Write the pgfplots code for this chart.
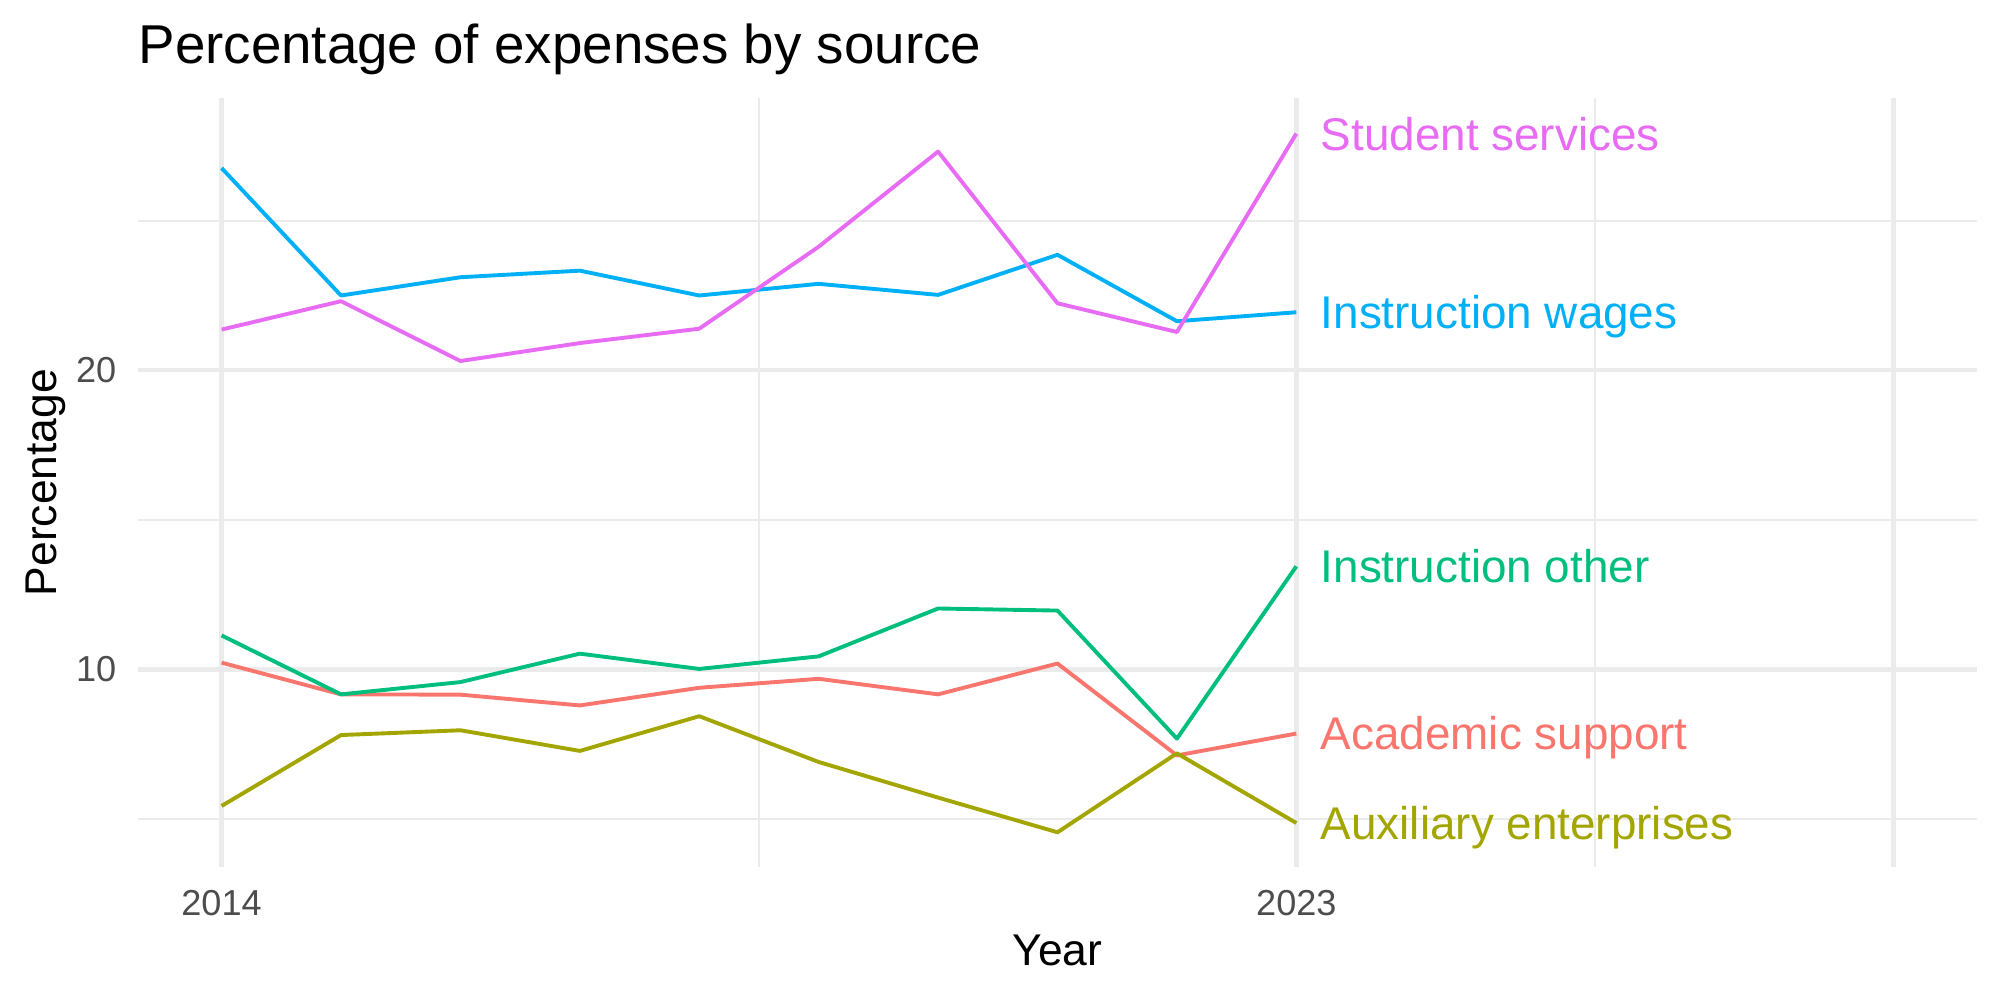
\documentclass[border=0pt]{standalone}
\usepackage{pgfplots}
\pgfplotsset{compat=1.18}
\usepackage{pgfplotstable}
\usepackage{fontspec}
\setmainfont{Liberation Sans}

\definecolor{cAcad}{HTML}{F8766D}
\definecolor{cAux}{HTML}{A3A500}
\definecolor{cInstO}{HTML}{00BF7D}
\definecolor{cInstW}{HTML}{00B0F6}
\definecolor{cStud}{HTML}{E76BF3}
\definecolor{grid92}{HTML}{EBEBEB}
\definecolor{grey30}{HTML}{4D4D4D}

% Share of expenses (%) by source and year
\pgfplotstableread{
year  acad   aux   insto  instw  stud
2014  10.23  5.44  11.14  26.76  21.36
2015   9.17  7.81   9.17  22.50  22.31
2016   9.16  7.97   9.58  23.11  20.31
2017   8.80  7.28  10.53  23.33  20.91
2018   9.39  8.44  10.02  22.50  21.39
2019   9.69  6.91  10.44  22.89  24.13
2020   9.17  5.72  12.04  22.52  27.31
2021  10.20  4.56  11.97  23.86  22.24
2022   7.13  7.20   7.69  21.64  21.28
2023   7.86  4.87  13.45  21.94  27.91
}\expenses

\begin{document}
\begin{tikzpicture}
\path[use as bounding box] (-49.68pt,-47.88pt) rectangle (670.32pt,312.12pt);
\begin{axis}[
  at={(0,0)}, anchor=south west,
  scale only axis, width=662.04pt, height=276.84pt,
  xmin=2013.3, xmax=2028.7, ymin=3.4, ymax=29.1,
  axis line style={draw=none},
  major tick length=0pt, minor tick length=0pt,
  xtick={2014,2023,2028}, xticklabels={2014,2023,{}},
  minor xtick={2018.5,2025.5},
  ytick={10,20}, yticklabels={10,20},
  minor ytick={5,15,25},
  grid=both,
  major grid style={draw=grid92, line width=1.56pt},
  minor grid style={draw=grid92, line width=0.78pt},
  /pgf/number format/assume math mode=true,
  xticklabel style={font=\fontsize{13}{15}\selectfont, text=grey30, inner sep=0pt, anchor=north, yshift=-8.3pt},
  yticklabel style={font=\fontsize{13}{15}\selectfont, text=grey30, inner sep=0pt, anchor=east, xshift=-7.6pt},
  clip=false,
  every axis plot/.append style={line width=1.4pt, line join=round, no marks},
]
\addplot[cAcad]  table[x=year, y=acad]  {\expenses};
\addplot[cAux]   table[x=year, y=aux]   {\expenses};
\addplot[cInstO] table[x=year, y=insto] {\expenses};
\addplot[cInstW] table[x=year, y=instw] {\expenses};
\addplot[cStud]  table[x=year, y=stud]  {\expenses};

% direct labels at the last year
\begin{scope}[every node/.style={anchor=base west, inner sep=0pt, font=\fontsize{16.5}{19}\selectfont, yshift=-5.9pt}]
\node[text=cStud]  at (axis cs:2023.2,27.91) {Student services};
\node[text=cInstW] at (axis cs:2023.2,21.94) {Instruction wages};
\node[text=cInstO] at (axis cs:2023.2,13.45) {Instruction other};
\node[text=cAcad]  at (axis cs:2023.2,7.86)  {Academic support};
\node[text=cAux]   at (axis cs:2023.2,4.87)  {Auxiliary enterprises};
\end{scope}

% titles
\node[anchor=base west, inner sep=0pt, font=\fontsize{19.7}{23}\selectfont, yshift=12.6pt]
  at (rel axis cs:0,1) {Percentage of expenses by source};
\node[anchor=base, inner sep=0pt, font=\fontsize{16}{19}\selectfont, yshift=-35.3pt]
  at (rel axis cs:0.5,0) {Year};
\node[xshift=-29.5pt, rotate=90, anchor=base, inner sep=0pt, font=\fontsize{16}{19}\selectfont]
  at (rel axis cs:0,0.5) {Percentage};
\end{axis}
\end{tikzpicture}
\end{document}
